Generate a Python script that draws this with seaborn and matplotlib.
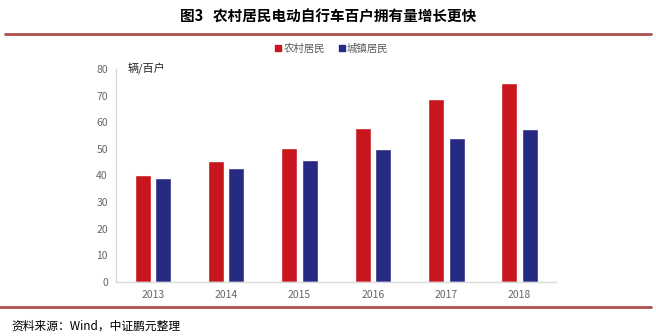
import matplotlib
matplotlib.use("Agg")
import matplotlib.pyplot as plt
import seaborn as sns
import pandas as pd
from matplotlib.lines import Line2D

years = ["2013", "2014", "2015", "2016", "2017", "2018"]
rural = [40.3, 45.5, 50.2, 57.7, 68.8, 74.8]
urban = [39.1, 42.6, 45.7, 49.9, 54.1, 57.5]
series_names = ["农村居民", "城镇居民"]
yticks = [0, 10, 20, 30, 40, 50, 60, 70, 80]

sns.set_theme(style="white")
plt.rcParams['font.family'] = ['Noto Sans CJK SC', 'DejaVu Sans']

df = pd.DataFrame({
    "year": years * 2,
    "value": rural + urban,
    "series": [series_names[0]] * len(years) + [series_names[1]] * len(years),
})

fig = plt.figure(figsize=(6.56, 3.36), dpi=100)
ax = fig.add_axes([0.177, 0.161, 0.671, 0.634])
sns.barplot(data=df, x="year", y="value", hue="series",
            palette=["#C8161E", "#262A82"], width=0.56, gap=0.22,
            saturation=1, ax=ax, legend=False)

ax.set_ylim(0, 80)
ax.set_xlim(-0.5, 5.5)
ax.set_yticks(yticks)
ax.set_xlabel("")
ax.set_ylabel("")
for s in ["top", "right"]:
    ax.spines[s].set_visible(False)
for s in ["left", "bottom"]:
    ax.spines[s].set_color("#D9D9D9")
    ax.spines[s].set_linewidth(1)
ax.tick_params(axis="both", colors="#666666", labelsize=7.5, length=0, pad=6)

ax.text(0.025, 1.0, "辆/百户", transform=ax.transAxes, fontsize=8, color="#262626",
        va="center", ha="left")

handles = [Line2D([], [], marker="s", linestyle="", color=c, markersize=4)
           for c in ["#C8161E", "#262A82"]]
fig.legend(handles, series_names, loc="center", bbox_to_anchor=(0.505, 0.856),
           ncol=2, frameon=False, fontsize=7.5, labelcolor="#595959",
           handletextpad=0.1, columnspacing=1.2, handlelength=0.8)

fig.text(0.5, 0.95, "图3   农村居民电动自行车百户拥有量增长更快", ha="center", va="center",
         fontsize=10.5, fontweight="bold", color="#000000")
fig.add_artist(Line2D([0.008, 0.992], [0.900, 0.900], color="#AD4F51", linewidth=2,
                      transform=fig.transFigure))
fig.add_artist(Line2D([0.0, 0.992], [0.086, 0.086], color="#AD4F51", linewidth=2,
                      transform=fig.transFigure))
fig.text(0.018, 0.03, "资料来源：Wind，中证鹏元整理", ha="left", va="center",
         fontsize=8.5, color="#000000")

fig.savefig("out.png", dpi=100)
